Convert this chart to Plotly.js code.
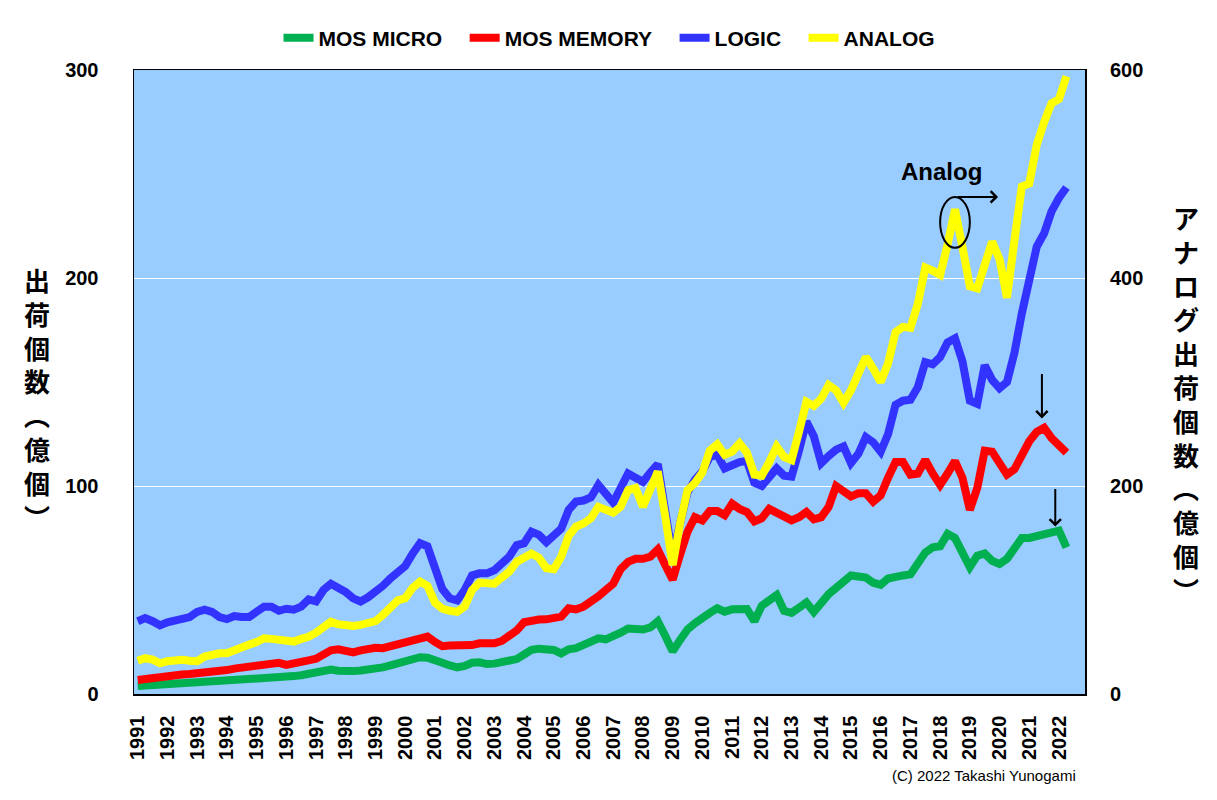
<!DOCTYPE html>
<html>
<head>
<meta charset="utf-8">
<script src="https://cdn.plot.ly/plotly-3.0.1.min.js"></script>
<style>
  html, body { margin: 0; padding: 0; background: #ffffff; }
  #chart { width: 1217px; height: 800px; }
</style>
</head>
<body>
<div id="chart"></div>
<script>
// Quarterly shipments, 1991 Q1 - 2022 Q2 (units: 100 million pieces)
const years = [1991,1992,1993,1994,1995,1996,1997,1998,1999,2000,2001,2002,2003,2004,2005,2006,
               2007,2008,2009,2010,2011,2012,2013,2014,2015,2016,2017,2018,2019,2020,2021,2022];
const quartersPerYear = 4;

const mosMicro = [
  3.8,4,4.2,4.2, 4.6,5,5,5, 5.5,6,6,6.2, 6.5,6.8,7,7.5, 7.6,7.8,8,8.3, 8.5,8.6,9,9.6,
  10,10.5,11.8,11.2, 10.8,11,11.3,11.5, 12,12.8,13.8,14.7, 15.5,16.3,17.7,17.4,
  16.5,15,13.7,12.8, 13.5,15,15.2,14.4, 14.6,15.2,16,16.8, 19,21.2,21.8,21.5,
  21.2,19.5,21.5,22, 23.5,25,26.8,26.3, 27.5,29.5,31.5,31.2, 31,32,35,28,
  20.5,26,31,34, 37,39,41.2,39.6, 40.7,40.5,40.8,35, 42.5,45,47.6,40,
  39,41.5,44,39.5, 44,48,51,54, 57,56.5,56,53.5, 52.5,55.5,56.5,57,
  57.5,63,68,70.5, 71,77,75,68, 61,66.5,67.5,64, 62.5,65,70.5,75,
  75,76,77,77.5, 78.5,70.5
];
const mosMemory = [
  6.7,7.3,7.8,8.2, 8.7,9.1,9.4,9.6, 9.8,10.3,10.7,11.2, 11.5,12.2,12.8,13.5,
  14,14.5,15.2,15, 14,15,15.6,16.2, 17,19.5,21,21.5, 20.5,20,21,22,
  22.2,22,23,24.2, 25,26,27.5,27.6, 25,23,23.3,23.5, 22.8,23.5,24.4,24.4,
  24.4,25.5,28,30.5, 34.5,35.3,35.8,35.9, 36.2,37.2,41.2,40.7, 42,44,47,50,
  53,60,63.5,65, 65,66,69.5,62, 55,67,78,85, 83.5,88,88,86,
  91.5,89,87.5,83, 84.5,89,87,86, 83.5,85,87.5,84, 85,90,100,97.5,
  95,96.5,96.5,92.5, 95.5,104,111.5,111.5, 105.5,106,112.5,106, 100.5,106,112,104,
  88.5,99,117,116.5, 111.5,105.5,108,115, 121.5,126,128,123, 120,116
];
const logic = [
  35,36.5,35,33, 34.5,35.5,36,37, 39.5,40.5,39.5,37, 36,37.5,37,37,
  39.5,42,42,40, 41,40.5,42,45.5, 44.5,50,53,51.5, 49,46,44.5,46.5,
  49,52,55.5,59, 61.5,67.5,72.5,71, 60.5,50.5,46,45, 50,57,58,58,
  59.5,62.5,66,71.5, 72.5,78,76.5,73, 76.5,79.5,88.5,92.5, 93,94.5,100.5,96.5,
  92,99,106,104, 102,106.5,110.5,88, 66,82,97,103, 107,114,115,108.5,
  110.5,111.5,112,101.5, 100,105,108.5,105, 104.5,117,131,124, 111,114.5,117.5,119,
  111,115.5,123.5,121, 116.5,125,139,141, 141.5,147.5,159.5,158.5, 162,169,171,160,
  141,139.5,158,151, 147,150,164,183, 201,215,221.5,232, 238.5,243.5
];
const analog = [
  32,34.4,33,29.5, 31.5,32.6,33,32, 31.5,36,38.5,39.2, 39.2,42.5,45.5,47.5,
  50,53.6,53,51.5, 50.4,50.4,53,55, 59,64.8,69.5,67, 66,65.4,66.5,67.5,
  70,76,82,90, 92,102,108,104, 88,82,80,79, 84,100,107,107.4,
  106,112,117.6,127, 132,135,131,121, 120,132,152,161, 164,169,180,177,
  174.4,180,196,198, 180,197,214,171, 124,164,196,203, 213,234,240,230,
  233,241,232,211, 210,223,238,228, 225,252,281,277, 284,297,292,280,
  292,308,324,313, 300,318,348,353, 352,375,410,407, 403,432,466,430,
  392,390,410,435, 418,381,436,488, 491,528,550,568, 572,594
];

const seriesNames = ['MOS MICRO', 'MOS MEMORY', 'LOGIC', 'ANALOG'];
const seriesColors = ['#00B050', '#FF0000', '#3333FF', '#FFFF00'];
const leftTitleText = '出荷個数︵億個︶';
const rightTitleText = 'アナログ出荷個数︵億個︶';

// quarter index as x position
const xq = mosMicro.map((_, i) => i);
const tickVals = years.map(y => (y - years[0]) * quartersPerYear);
const tickText = years.map(String);

const lineW = 8;
const gap = '\u00a0\u00a0\u00a0';
const traces = [
  {x: xq, y: mosMicro, name: seriesNames[0] + gap, yaxis: 'y'},
  {x: xq, y: mosMemory, name: seriesNames[1] + gap, yaxis: 'y'},
  {x: xq, y: logic, name: seriesNames[2] + gap, yaxis: 'y'},
  {x: xq, y: analog, name: seriesNames[3], yaxis: 'y2'}
].map((t, k) => Object.assign(t, {
  type: 'scatter', mode: 'lines',
  line: {color: seriesColors[k], width: lineW, shape: 'linear'},
  hoverinfo: 'skip'
}));

const sans = 'Liberation Sans, Arial, sans-serif';
const boldArial = {family: sans, size: 20, color: '#000', weight: 'bold'};
const legendFont = {family: 'Liberation Sans Narrow, Arial Narrow, Liberation Sans, sans-serif', size: 21, color: '#000', weight: 'bold'};
const cjk = 'Noto Sans CJK JP, Noto Sans CJK SC, sans-serif';

const W = 1217, H = 800, mL = 134, mR = 132, mT = 70, mB = 106;
const pw = W - mL - mR, ph = H - mT - mB;
const px2paperX = px => (px - mL) / pw;
const px2paperY = py => (H - mB - py) / ph;

// vertical writing: one character per line
const stack = s => Array.from(s).join('<br>');

const layout = {
  width: W, height: H,
  margin: {l: mL, r: mR, t: mT, b: mB, pad: 0},
  paper_bgcolor: '#FFFFFF',
  plot_bgcolor: '#99CCFF',
  showlegend: true,
  legend: {
    orientation: 'h', x: 0.5, xanchor: 'center', y: 1 + 32 / ph, yanchor: 'middle',
    font: legendFont, bgcolor: 'rgba(0,0,0,0)', itemwidth: 30,
    traceorder: 'normal'
  },
  xaxis: {
    range: [-0.5, 127.5],
    tickmode: 'array', tickvals: tickVals, ticktext: tickText,
    tickangle: -90,
    tickfont: {family: sans, size: 20, color: '#000', weight: 'bold'},
    ticks: 'outside', ticklen: 12, tickcolor: 'rgba(0,0,0,0)',
    showgrid: false, zeroline: false,
    showline: true, linecolor: '#000', linewidth: 1.5, mirror: true
  },
  yaxis: {
    range: [0, 300], dtick: 100, tick0: 0,
    tickfont: boldArial,
    ticks: 'outside', ticklen: 30, tickcolor: 'rgba(0,0,0,0)',
    showgrid: true, gridcolor: '#FFFFFF', gridwidth: 1,
    zeroline: false,
    showline: true, linecolor: '#000', linewidth: 1.5, mirror: true
  },
  yaxis2: {
    range: [0, 600], dtick: 200, tick0: 0,
    overlaying: 'y', side: 'right',
    tickfont: boldArial,
    ticks: 'outside', ticklen: 20, tickcolor: 'rgba(0,0,0,0)',
    showgrid: false, zeroline: false, showline: false
  },
  shapes: [
    {type: 'circle', xref: 'x', yref: 'y',
     x0: 108.0, x1: 112.0, y0: 214.5, y1: 239,
     line: {color: '#000', width: 2}, fillcolor: 'rgba(0,0,0,0)'}
  ],
  annotations: [
    {text: stack(leftTitleText), xref: 'paper', yref: 'paper',
     x: px2paperX(37), y: px2paperY(398), xanchor: 'center', yanchor: 'middle', showarrow: false,
     font: {family: cjk, size: 26, color: '#000', weight: 'bold'}},
    {text: stack(rightTitleText), xref: 'paper', yref: 'paper',
     x: px2paperX(1186), y: px2paperY(403), xanchor: 'center', yanchor: 'middle', showarrow: false,
     font: {family: cjk, size: 26, color: '#000', weight: 'bold'}},
    {text: 'Analog', xref: 'x', yref: 'y', x: 108.2, y: 251, showarrow: false,
     xanchor: 'center', yanchor: 'middle',
     font: {family: sans, size: 24, color: '#000', weight: 'bold'}},
    {text: '', xref: 'x', yref: 'y', x: 115.8, y: 239, ax: -42, ay: 0,
     showarrow: true, arrowhead: 4, arrowsize: 1.1, arrowwidth: 2, arrowcolor: '#000'},
    {text: '', xref: 'x', yref: 'y', x: 121.7, y: 132.5, ax: 0, ay: -46,
     showarrow: true, arrowhead: 4, arrowsize: 1.1, arrowwidth: 2, arrowcolor: '#000'},
    {text: '', xref: 'x', yref: 'y', x: 123.5, y: 80.5, ax: 0, ay: -39,
     showarrow: true, arrowhead: 4, arrowsize: 1.1, arrowwidth: 2, arrowcolor: '#000'},
    {text: '(C) 2022 Takashi Yunogami', xref: 'paper', yref: 'paper',
     x: px2paperX(1078), y: px2paperY(775), xanchor: 'right', yanchor: 'middle', showarrow: false,
     font: {family: 'Liberation Sans Narrow, Arial Narrow, Liberation Sans, sans-serif', size: 15, color: '#000'}}
  ]
};

Plotly.newPlot('chart', traces, layout, {staticPlot: true, displayModeBar: false});
</script>
</body>
</html>
